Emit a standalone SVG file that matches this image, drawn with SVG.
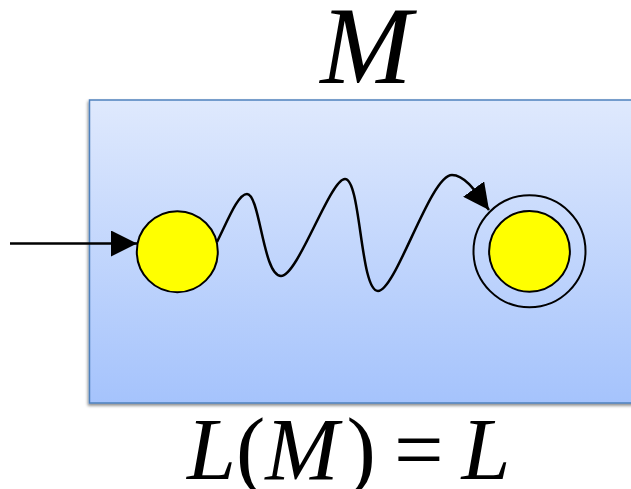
<svg xmlns="http://www.w3.org/2000/svg" width="631" height="489" viewBox="0 0 631 489">
<style>
.state{fill:#ffff00;stroke:#000;stroke-width:2}
.ring{fill:none;stroke:#000;stroke-width:2}
.edge{fill:none;stroke:#000;stroke-width:2.5}
.math{font-family:"Liberation Serif","DejaVu Serif",serif;fill:#000}
</style>
<defs>
<linearGradient id="bg" x1="0" y1="0" x2="0" y2="1">
<stop offset="0" stop-color="#dfe9fd"/>
<stop offset="1" stop-color="#a5c3fc"/>
</linearGradient>
<filter id="sh" x="-5%" y="-5%" width="110%" height="115%">
<feDropShadow dx="-1" dy="2" stdDeviation="1.5" flood-color="#000" flood-opacity="0.45"/>
</filter>
<marker id="ah" viewBox="0 0 26 26" refX="26" refY="13" markerWidth="26" markerHeight="26" markerUnits="userSpaceOnUse" orient="auto">
<path d="M0,0 L26,13 L0,26 z" fill="#000"/>
</marker>
</defs>
<g id="machine">
<rect x="89.5" y="100" width="560" height="303" fill="url(#bg)" stroke="#4f81bd" stroke-width="1.5" filter="url(#sh)"/>
</g>
<text class="math" x="366" y="83" font-size="110" font-style="italic" text-anchor="middle">M</text>
<g id="connectors">
<path class="edge" d="M10,243.5 L137,243.5" marker-end="url(#ah)"/>
<path class="edge" d="M217,242 C228,220 238,194 247,194 C260,194 263,276 281,276 C298,276 330,179 345,179 C361,179 360,291 378,291 C396,291 430,175 452,175 C466,175 478,195 489,210" marker-end="url(#ah)"/>
</g>
<g id="start">
<circle class="state" cx="177.3" cy="251.7" r="40.5"/>
</g>
<g id="final">
<circle class="ring" cx="529.5" cy="251.3" r="56"/>
<circle class="state" cx="529.5" cy="251.3" r="40.4"/>
</g>
<text class="math" x="187" y="479" font-size="88"><tspan font-style="italic">L</tspan><tspan>(</tspan><tspan font-style="italic">M</tspan><tspan dx="8">)</tspan><tspan dx="18">=</tspan><tspan dx="18" font-style="italic">L</tspan></text>
</svg>
